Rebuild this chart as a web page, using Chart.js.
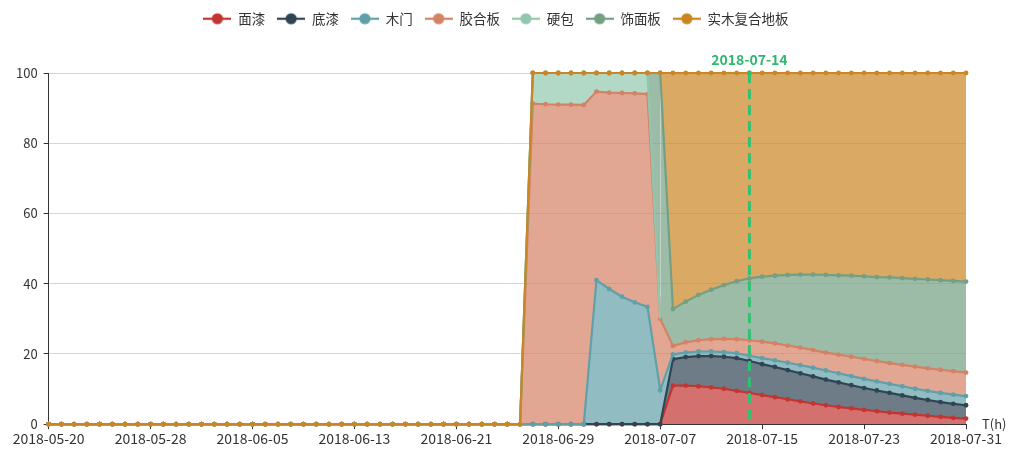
<!DOCTYPE html>
<html><head><meta charset="utf-8">
<script src="https://cdn.jsdelivr.net/npm/chart.js@4/dist/chart.umd.min.js"></script>
<style>html,body{margin:0;padding:0;background:#fff}#wrap{width:1010px;height:450px;position:relative}</style>
</head><body><div id="wrap"><canvas id="c"></canvas></div>
<script>
// ---------- DATA ----------
const categories = [
 '2018-05-20','2018-05-21','2018-05-22','2018-05-23','2018-05-24','2018-05-25','2018-05-26','2018-05-27','2018-05-28','2018-05-29','2018-05-30','2018-05-31',
 '2018-06-01','2018-06-02','2018-06-03','2018-06-04','2018-06-05','2018-06-06','2018-06-07','2018-06-08','2018-06-09','2018-06-10',
 '2018-06-11','2018-06-12','2018-06-13','2018-06-14','2018-06-15','2018-06-16','2018-06-17','2018-06-18','2018-06-19','2018-06-20',
 '2018-06-21','2018-06-22','2018-06-23','2018-06-24','2018-06-25','2018-06-26','2018-06-27','2018-06-28','2018-06-29','2018-06-30',
 '2018-07-01','2018-07-02','2018-07-03','2018-07-04','2018-07-05','2018-07-06','2018-07-07','2018-07-08','2018-07-09','2018-07-10',
 '2018-07-11','2018-07-12','2018-07-13','2018-07-14','2018-07-15','2018-07-16','2018-07-17','2018-07-18','2018-07-19','2018-07-20',
 '2018-07-21','2018-07-22','2018-07-23','2018-07-24','2018-07-25','2018-07-26','2018-07-27','2018-07-28','2018-07-29','2018-07-30','2018-07-31'
];
const xTickLabels = ['2018-05-20','2018-05-28','2018-06-05','2018-06-13','2018-06-21','2018-06-29','2018-07-07','2018-07-15','2018-07-23','2018-07-31'];
const yTickValues = [0,20,40,60,80,100];
const markLineDate = '2018-07-14';
const xAxisName = 'T(h)';
const seriesNames = ['面漆','底漆','木门','胶合板','硬包','饰面板','实木复合地板'];

const mianqi = [
 0,0,0,0,0,0,0,0,0,0, 0,0,0,0,0,0,0,0,0,0, 0,0,0,0,0,0,0,0,0,0, 0,0,0,0,0,0,0,0,
 0,0,0,0,0,0,0,0,0,0, 0,
 11.0,11.0,10.8,10.5,10.1,9.5,8.9,8.3,7.7,7.1,6.5,5.9,5.4,4.9,4.5,4.1,3.7,3.3,3.0,2.7,2.4,2.1,1.8,1.6
];
const diqi = [
 0,0,0,0,0,0,0,0,0,0, 0,0,0,0,0,0,0,0,0,0, 0,0,0,0,0,0,0,0,0,0, 0,0,0,0,0,0,0,0,
 0,0,0,0,0,0,0,0,0,0, 0,
 7.5,8.1,8.6,8.9,9.1,9.3,9.1,8.8,8.6,8.3,8.0,7.7,7.3,7.0,6.6,6.2,5.9,5.6,5.2,4.8,4.5,4.2,4.0,3.8
];
const mumen = [
 0,0,0,0,0,0,0,0,0,0, 0,0,0,0,0,0,0,0,0,0, 0,0,0,0,0,0,0,0,0,0, 0,0,0,0,0,0,0,0,
 0,0,0,0,0,41.0,38.5,36.3,34.7,33.4, 9.7,
 1.4,1.3,1.3,1.3,1.3,1.4,1.5,1.7,1.9,2.1,2.3,2.5,2.6,2.6,2.6,2.6,2.6,2.6,2.6,2.6,2.6,2.6,2.6,2.6
];
const jiaoheban = [
 0,0,0,0,0,0,0,0,0,0, 0,0,0,0,0,0,0,0,0,0, 0,0,0,0,0,0,0,0,0,0, 0,0,0,0,0,0,0,0,
 91.3,91.1,91.0,91.0,90.9,53.7,55.9,58.0,59.5,60.6, 20.3,
 2.4,2.9,3.2,3.5,3.8,4.0,4.4,4.7,4.8,4.9,5.0,5.0,5.1,5.3,5.5,5.7,5.8,5.9,6.1,6.3,6.4,6.6,6.7,6.7
];
const yingbao = [
 0,0,0,0,0,0,0,0,0,0, 0,0,0,0,0,0,0,0,0,0, 0,0,0,0,0,0,0,0,0,0, 0,0,0,0,0,0,0,0,
 8.7,8.9,9.0,9.0,9.1,5.3,5.6,5.7,5.8,6.0, 0,
 0,0,0,0,0,0,0,0,0,0,0,0,0,0,0,0,0,0,0,0,0,0,0,0
];
const shimianban = [
 0,0,0,0,0,0,0,0,0,0, 0,0,0,0,0,0,0,0,0,0, 0,0,0,0,0,0,0,0,0,0, 0,0,0,0,0,0,0,0,
 0,0,0,0,0,0,0,0,0,0, 70.0,
 10.5,11.6,12.9,14.1,15.3,16.5,17.6,18.5,19.3,20.1,20.8,21.5,22.1,22.6,23.1,23.5,23.9,24.4,24.7,25.0,25.3,25.5,25.7,25.9
];
const shimu = [
 0,0,0,0,0,0,0,0,0,0, 0,0,0,0,0,0,0,0,0,0, 0,0,0,0,0,0,0,0,0,0, 0,0,0,0,0,0,0,0,
 0,0,0,0,0,0,0,0,0,0, 0,
 67.2,65.1,63.2,61.7,60.4,59.3,58.5,58.0,57.7,57.5,57.4,57.4,57.5,57.6,57.7,57.9,58.1,58.2,58.4,58.6,58.8,59.0,59.2,59.4
];
const seriesValues = [mianqi, diqi, mumen, jiaoheban, yingbao, shimianban, shimu];

// ---------- STYLE ----------
const colors = ['#c23531','#2f4554','#61a0a8','#d48265','#91c7ae','#749f83','#ca8622'];
const FONT = '"Microsoft YaHei","Noto Sans CJK SC",sans-serif';
function rgba(hex,a){const n=parseInt(hex.slice(1),16);return `rgba(${n>>16},${(n>>8)&255},${n&255},${a})`;}
function makeIcon(color){
  const c=document.createElement('canvas');c.width=28;c.height=14;
  const g=c.getContext('2d');
  g.strokeStyle=color;g.lineWidth=2.2;g.beginPath();g.moveTo(0,7);g.lineTo(28,7);g.stroke();
  g.fillStyle=color;g.beginPath();g.arc(14,7,5.6,0,Math.PI*2);g.fill();
  return c;
}
const icons = colors.map(makeIcon);

const datasets = seriesNames.map((name,i)=>{
  const ds = {
    label:name, data:seriesValues[i],
    borderColor:colors[i], backgroundColor:rgba(colors[i],0.7),
    pointBackgroundColor:colors[i], pointBorderWidth:0, pointRadius:2.4, pointHoverRadius:2.4,
    borderWidth:2.2, tension:0, fill: i===0?'origin':'-1', clip:8
  };
  if(name==='硬包'){
    const vals = seriesValues[i];
    ds.segment = {borderColor: ctx => (vals[ctx.p0DataIndex]===0 && vals[ctx.p1DataIndex]===0) ? 'rgba(0,0,0,0)' : undefined};
    ds.pointRadius = ctx => (vals[ctx.dataIndex]===0 && ctx.dataIndex>=48) ? 0 : 2.4;
  }
  return ds;
});

const legendSpace = {
  id:'legendSpace',
  afterInit(chart){
    const lg = chart.legend;
    if(lg && !lg._patched){
      const f = lg.fit;
      lg.fit = function(){ f.call(this); this.height = 73; };
      const d = lg.draw;
      lg.draw = function(){ const c=this.ctx; c.save(); c.translate(8,0); d.call(this); c.restore(); };
      lg._patched = true;
    }
  }
};
const forwardOrder = {
  id:'forwardOrder',
  beforeDatasetsDraw(chart){
    if(typeof chart._drawDataset!=='function') return;
    const metas = chart.getSortedVisibleDatasetMetas();
    for(const m of metas) chart._drawDataset(m);
    return false;
  }
};
const extras = {
  id:'extras',
  afterDraw(chart){
    const {ctx, chartArea, scales:{x,y}} = chart;
    const px = x.getPixelForValue(categories.indexOf(markLineDate));
    const top = y.getPixelForValue(100), bot = y.getPixelForValue(0);
    ctx.save();
    ctx.strokeStyle='#2fc272'; ctx.lineWidth=3; ctx.setLineDash([10,6]);
    ctx.beginPath(); ctx.moveTo(px,top); ctx.lineTo(px,bot); ctx.stroke();
    ctx.setLineDash([]);
    ctx.fillStyle='#2fc272'; ctx.beginPath(); ctx.arc(px,top,2.5,0,Math.PI*2); ctx.fill();
    ctx.fillStyle='#2fb870'; ctx.font='bold 14px '+FONT; ctx.textAlign='center'; ctx.textBaseline='middle';
    ctx.fillText(markLineDate, px, top-13);
    ctx.fillStyle='#333'; ctx.font='13px '+FONT; ctx.textAlign='left'; ctx.textBaseline='middle';
    ctx.fillText(xAxisName, chartArea.right+16, bot);
    ctx.restore();
  }
};

new Chart(document.getElementById('c'), {
  type:'line',
  data:{labels:categories, datasets},
  plugins:[legendSpace, forwardOrder, extras],
  options:{
    responsive:true, maintainAspectRatio:false, animation:false, events:[],
    layout:{padding:{left:10,right:44,top:0,bottom:2}},
    plugins:{
      tooltip:{enabled:false},
      filler:{drawTime:'beforeDatasetsDraw'},
      legend:{
        position:'top',
        labels:{
          usePointStyle:true, pointStyleWidth:28, boxHeight:14, padding:12,
          color:'#333', font:{family:FONT,size:13.5},
          generateLabels:(chart)=>chart.data.datasets.map((ds,i)=>({
            text:ds.label, pointStyle:icons[i], fillStyle:colors[i], strokeStyle:colors[i],
            lineWidth:0, hidden:false, datasetIndex:i, fontColor:'#333'
          }))
        }
      }
    },
    scales:{
      x:{
        type:'category', offset:false,
        grid:{drawOnChartArea:false, drawTicks:true, tickLength:5,
              tickColor: ctx => xTickLabels.includes(categories[ctx.index]) ? '#333' : 'rgba(0,0,0,0)'},
        border:{display:true,color:'#333',width:1},
        ticks:{autoSkip:false, maxRotation:0, minRotation:0, padding:1, color:'#333', font:{family:FONT,size:14},
               callback:(v,i)=> xTickLabels.includes(categories[i]) ? categories[i] : ''}
      },
      y:{
        stacked:true, min:0, max:100,
        afterBuildTicks: s => { s.ticks = yTickValues.map(v=>({value:v})); },
        grid:{color:'#d6d6d6', drawTicks:true, tickLength:5, tickColor:'#333'},
        border:{display:true,color:'#333',width:1},
        ticks:{color:'#333', padding:6, font:{family:FONT,size:13}}
      }
    }
  }
});
</script>
</body></html>
